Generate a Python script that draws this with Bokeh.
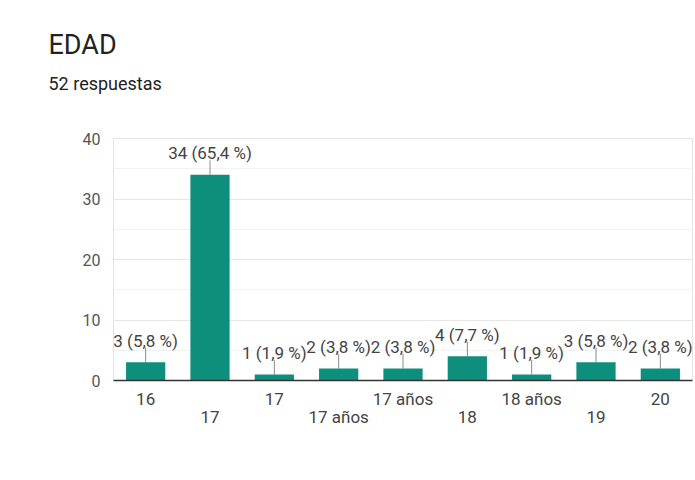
from bokeh.plotting import figure
from bokeh.models import Range1d, FixedTicker, Title, ColumnDataSource
from bokeh.core.properties import value
from bokeh.embed import file_html
from bokeh.resources import INLINE

title_text = "EDAD"
subtitle_text = "52 respuestas"
categories = ["16", "17", "17", "17 años", "17 años", "18", "18 años", "19", "20"]
counts = [3, 34, 1, 2, 2, 4, 1, 3, 2]
percents = ["5,8", "65,4", "1,9", "3,8", "3,8", "7,7", "1,9", "5,8", "3,8"]
y_ticks = [0, 10, 20, 30, 40]
y_minor = [5, 15, 25, 35]

FONT = "Roboto"
BAR = "#0e8f7e"
TXT = "#444444"

idx = list(range(len(categories)))
labels = [f"{c} ({p} %)" for c, p in zip(counts, percents)]
lead = 2.4
src = ColumnDataSource(dict(x=idx, top=counts, lab=labels,
                            tip=[c + lead for c in counts]))

p = figure(width=695, height=480, output_backend="svg", toolbar_location=None,
           x_range=Range1d(-0.5, len(categories) - 0.5), y_range=Range1d(0, 40),
           min_border_left=113, min_border_right=3, min_border_top=0, min_border_bottom=100)
p.background_fill_color = "white"
p.border_fill_color = "white"
p.outline_line_color = "#e3e3e3"

# title block: panels stacked outward from the plot frame (first added = nearest)
def spacer(h):
    return Title(text=" ", text_font_size="1px", standoff=h)

p.add_layout(spacer(34), "above")
p.add_layout(Title(text=subtitle_text, text_font=FONT, text_font_size="18px",
                   text_font_style="normal", text_color="#222222",
                   offset=-65, standoff=16), "above")
p.add_layout(Title(text=title_text, text_font=FONT, text_font_size="27px",
                   text_font_style="normal", text_color="#222222",
                   offset=-65, standoff=4), "above")
p.add_layout(spacer(21), "above")

# y axis
p.yaxis.ticker = FixedTicker(ticks=y_ticks, minor_ticks=y_minor)
p.yaxis.axis_line_color = None
p.yaxis.major_tick_line_color = None
p.yaxis.minor_tick_line_color = None
p.yaxis.major_label_text_font = FONT
p.yaxis.major_label_text_font_size = "16px"
p.yaxis.major_label_text_color = "#555555"
p.yaxis.major_label_standoff = 7
p.ygrid.grid_line_color = "#e6e6e6"
p.ygrid.minor_grid_line_color = "#f2f2f2"
p.xgrid.grid_line_color = None

# x axis: category labels staggered on two rows
ax = p.xaxis[0]
ax.ticker = FixedTicker(ticks=idx)
ax.major_label_overrides = {i: (c if i % 2 == 0 else "\n" + c) for i, c in enumerate(categories)}
ax.axis_line_color = "#333333"
ax.axis_line_width = 1.5
ax.major_tick_line_color = None
ax.minor_tick_line_color = None
ax.major_label_standoff = 2
ax.major_label_text_font = FONT
ax.major_label_text_font_size = "17px"
ax.major_label_text_color = TXT
ax.major_label_text_line_height = 0.92

# leader lines, bars, labels
p.segment(x0="x", y0="top", x1="x", y1="tip", source=src,
          line_color="#8a8a8a", line_width=1)
p.vbar(x="x", top="top", width=0.61, source=src, fill_color=BAR, line_color=None)
p.text(x="x", y="tip", text="lab", source=src, text_align="center",
       text_baseline="bottom", text_font=value(FONT), text_font_size="17px",
       text_color=TXT, y_offset=3)

open("out.html", "w").write(file_html(p, INLINE))
